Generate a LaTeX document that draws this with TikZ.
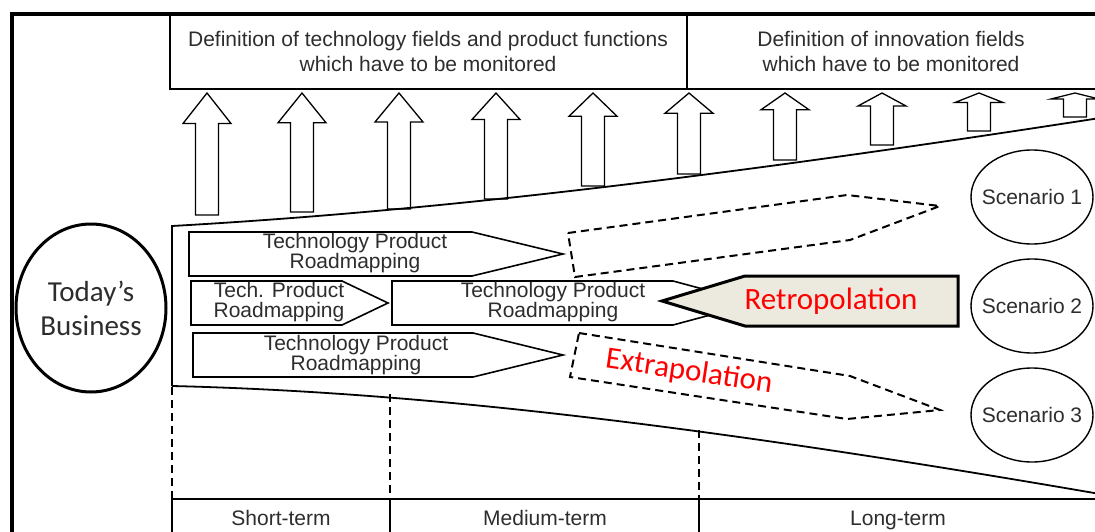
\documentclass[tikz,border=0pt]{standalone}
\usepackage{fontspec}
\setmainfont{Liberation Sans}
\newfontfamily\calibri{Carlito}
\usetikzlibrary{shapes.geometric}
\definecolor{retrofill}{RGB}{236,233,222}
\definecolor{inkgray}{RGB}{45,45,45}
\begin{document}
\begin{tikzpicture}[x=1pt,y=-1pt,
  label/.style={text=inkgray, font=\fontsize{21}{25}\selectfont, align=center, inner sep=0pt},
  roadtxt/.style={text=inkgray, font=\fontsize{21}{20}\selectfont, align=center, inner sep=0pt},
  bigtxt/.style={font=\calibri\fontsize{31}{33}\selectfont, text=red, inner sep=0pt},
  roadbox/.style={draw=black, line width=1.6pt, fill=white, line join=miter},
  blockarrow/.style={draw=black, line width=1.3pt, fill=white, line join=miter},
  funnel/.style={draw=black, line width=1.8pt},
  dashline/.style={draw=black, line width=2pt, dash pattern=on 8pt off 5pt},
  scen/.style={draw=black, ellipse, line width=1.4pt, minimum width=122pt, minimum height=94pt,
    text=inkgray, font=\fontsize{21}{21}\selectfont, inner xsep=-30pt, inner ysep=0pt},
]
\useasboundingbox (0,0) rectangle (1095,532);
\clip (0,0) rectangle (1095,532);

% outer frame
\draw[line width=3.5pt] (12,540) -- (12,14) -- (1110,14);

% header boxes
\draw[line width=1.8pt] (170,14) rectangle (1110,89);
\draw[line width=1.8pt] (687,14) -- (687,89);
\node[label] (techfields) at (428,51) {Definition of technology fields and product functions\\which have to be monitored};
\node[label] (innofields) at (891,51) {Definition of innovation fields\\which have to be monitored};

% upward block arrows standing on the funnel
\foreach \x/\yb in {207/215, 302/212, 399/209, 496/199, 593/186, 689/174, 785/160, 882/145, 979/131, 1075/117} {
  \pgfmathsetmacro{\h}{0.25*(\yb-93)}
  \draw[blockarrow] (\x-11.5,\yb) -- (\x-11.5,93+\h) -- (\x-24,93+\h) -- (\x,93)
     -- (\x+24,93+\h) -- (\x+11.5,93+\h) -- (\x+11.5,\yb) -- cycle;
}

% funnel
\draw[funnel] (172,386) -- (172,226) .. controls (420,212) and (700,180) .. (1100,118);
\draw[funnel] (172,386) .. controls (420,392) and (700,425) .. (1100,494);

% time horizon separators
\draw[dashline] (172,387) -- (172,499);
\draw[dashline] (390,394) -- (390,499);
\draw[dashline] (699,430) -- (699,499);

% time horizon boxes
\draw[line width=1.8pt] (172,540) -- (172,499) -- (1110,499);
\draw[line width=1.8pt] (390,499) -- (390,540);
\draw[line width=1.8pt] (699,499) -- (699,540);
\node[label, anchor=base] (short) at (281,525) {Short-term};
\node[label, anchor=base] (medium) at (545,525) {Medium-term};
\node[label, anchor=base] (long) at (898,525) {Long-term};

% today's business
\node[draw=black, ellipse, line width=3pt, minimum width=150pt, minimum height=168pt,
  font=\calibri\fontsize{29}{34}\selectfont, text=inkgray, align=center, inner sep=-8pt]
  (today) at (91,308) {Today’s\\Business};

% scenarios
\node[scen] (scenA) at (1032,197) {Scenario 1};
\node[scen] (scenB) at (1032,306) {Scenario 2};
\node[scen] (scenC) at (1032,415) {Scenario 3};

% extrapolation corridors
\draw[dashline] (568,233) -- (847,195) -- (940,206) -- (850,240) -- (575,277) -- cycle;
\draw[dashline] (579,333) -- (850,376) -- (940,410) -- (847,419) -- (570,377) -- cycle;

% roadmapping arrows
\draw[roadbox] (189,232) -- (472,232) -- (563,254) -- (472,276) -- (189,276) -- cycle;
\node[roadtxt] (rmA) at (355,253) {Technology Product\\Roadmapping};

\draw[roadbox] (191,281) -- (342,281) -- (388,303) -- (342,325) -- (191,325) -- cycle;
\node[roadtxt] (rmB) at (279,302) {Tech. Product\\Roadmapping};

\draw[roadbox] (392,281) -- (673,281) -- (755,303) -- (673,325) -- (392,325) -- cycle;
\node[roadtxt] (rmC) at (553,302) {Technology Product\\Roadmapping};

\draw[roadbox] (193,333) -- (473,333) -- (563,355) -- (473,377) -- (193,377) -- cycle;
\node[roadtxt] (rmD) at (356,355) {Technology Product\\Roadmapping};

% retropolation
\draw[draw=black, line width=3pt, fill=retrofill, line join=miter]
  (662,301) -- (745,276) -- (958,276) -- (958,326) -- (745,326) -- cycle;
\node[bigtxt] (retro) at (831,301) {Retropolation};

% extrapolation label
\node[bigtxt, rotate=-8.5] (extra) at (689,372) {Extrapolation};
\end{tikzpicture}
\end{document}
